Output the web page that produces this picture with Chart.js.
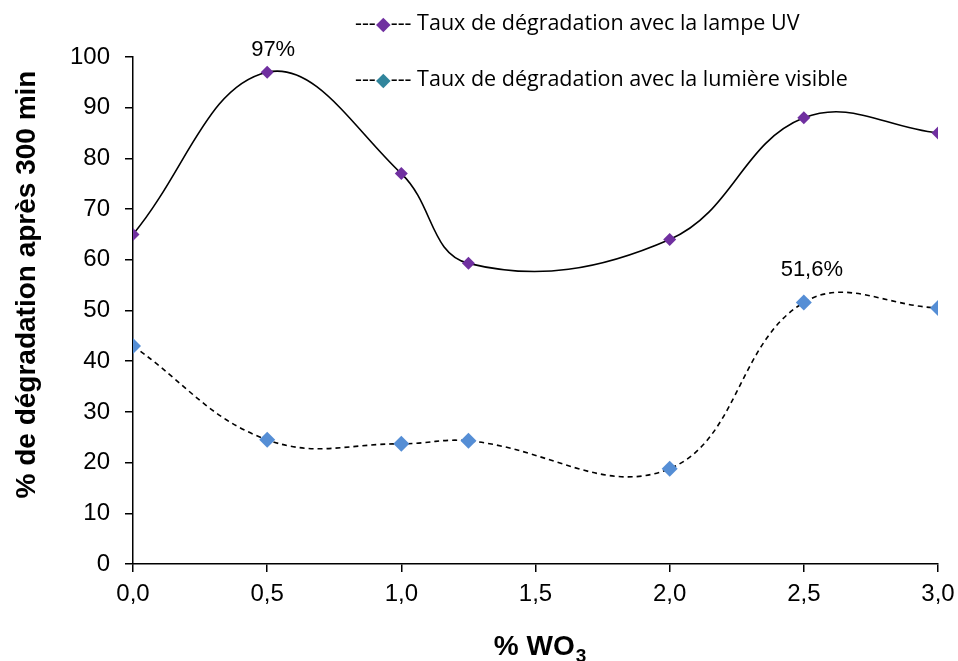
<!DOCTYPE html>
<html>
<head>
<meta charset="utf-8">
<script src="https://cdn.jsdelivr.net/npm/chart.js@4"></script>
<style>
  html, body { margin: 0; padding: 0; background: #fff; }
  #wrap { position: relative; width: 958px; height: 661px; }
  .legend { position: absolute; left: 355px; font-family: "Open Sans", "Noto Sans", sans-serif; font-size: 21.5px; color: #000; white-space: nowrap; line-height: 26px; }
  .legend .mark { font-size: 19px; }
</style>
</head>
<body>
<div id="wrap">
  <canvas id="chart" width="958" height="661"></canvas>
  <div class="legend" style="top:9px">---<span class="mark" style="color:#7030A0">◆</span>--- Taux de dégradation avec la lampe UV</div>
  <div class="legend" style="top:65px">---<span class="mark" style="color:#31859C">◆</span>--- Taux de dégradation avec la lumière visible</div>
</div>
<script>
// % WO3 values
const wo3 = [0, 0.5, 1.0, 1.25, 2.0, 2.5, 3.0];
// degradation after 300 min (%)
const uvRate = [65, 97, 77, 59.3, 64, 88, 85];
const visibleRate = [43, 24.5, 23.7, 24.3, 18.8, 51.6, 50.5];
const uvLabel = 'Taux de dégradation avec la lampe UV';
const visibleLabel = 'Taux de dégradation avec la lumière visible';
const yTitle = '% de dégradation après 300 min';
// which points get a value label, with a small nudge (dx, dy) from the point
const annotated = [
    { ds: 0, idx: 1, dx: 6, dy: -22 },
    { ds: 1, idx: 5, dx: 8, dy: -32 }
];

const toPoints = (xs, ys) => xs.map((x, i) => ({ x: x, y: ys[i] }));
const frNum = (v, d) => v.toFixed(d).replace('.', ',');
const FONT = '"Liberation Sans", Arial, sans-serif';

// value labels + axis titles (the x title needs a real subscript)
const extras = {
    id: 'extras',
    afterDatasetsDraw(chart) {
        const ctx = chart.ctx;
        ctx.save();
        ctx.font = '22px ' + FONT;
        ctx.fillStyle = '#000';
        ctx.textAlign = 'center';
        ctx.textBaseline = 'middle';
        annotated.forEach(a => {
            const pt = chart.getDatasetMeta(a.ds).data[a.idx];
            const v = chart.data.datasets[a.ds].data[a.idx].y;
            const txt = (Number.isInteger(v) ? String(v) : frNum(v, 1)) + '%';
            ctx.fillText(txt, pt.x + a.dx, pt.y + a.dy);
        });
        ctx.restore();
    },
    afterDraw(chart) {
        const ctx = chart.ctx;
        const area = chart.chartArea;
        ctx.save();
        ctx.fillStyle = '#000';

        // y title, sits a bit above the plot centre like the original
        ctx.font = 'bold 28px ' + FONT;
        ctx.textAlign = 'center';
        ctx.textBaseline = 'middle';
        ctx.translate(27, (area.top + area.bottom) / 2 - 26);
        ctx.rotate(-Math.PI / 2);
        ctx.fillText(yTitle, 0, 0);
        ctx.setTransform(1, 0, 0, 1, 0, 0);

        // x title: "% WO" + subscript 3
        ctx.textAlign = 'left';
        ctx.textBaseline = 'alphabetic';
        ctx.font = 'bold 28px ' + FONT;
        const main = '% WO';
        const wMain = ctx.measureText(main).width;
        ctx.font = 'bold 19px ' + FONT;
        const wSub = ctx.measureText('3').width;
        const x0 = (area.left + area.right) / 2 - (wMain + wSub) / 2 + 4;
        ctx.font = 'bold 28px ' + FONT;
        ctx.fillText(main, x0, 655);
        ctx.font = 'bold 19px ' + FONT;
        ctx.fillText('3', x0 + wMain + 1, 662);
        ctx.restore();
    }
};

const tickFont = { family: FONT, size: 24 };

new Chart(document.getElementById('chart'), {
    type: 'scatter',
    data: {
        datasets: [
            {
                label: uvLabel,
                data: toPoints(wo3, uvRate),
                showLine: true,
                borderColor: '#000',
                borderWidth: 1.6,
                tension: 0.4,
                pointStyle: 'rectRot',
                pointRadius: 6.5,
                pointBackgroundColor: '#7030A0',
                pointBorderColor: '#7030A0',
                pointBorderWidth: 0
            },
            {
                label: visibleLabel,
                data: toPoints(wo3, visibleRate),
                showLine: true,
                borderColor: '#000',
                borderWidth: 1.6,
                borderDash: [5, 4],
                tension: 0.4,
                pointStyle: 'rectRot',
                pointRadius: 8,
                pointBackgroundColor: '#558ED5',
                pointBorderColor: '#558ED5',
                pointBorderWidth: 0
            }
        ]
    },
    options: {
        responsive: false,
        animation: false,
        layout: { padding: { left: 0, top: 57, right: 20, bottom: 0 } },
        plugins: {
            legend: { display: false },
            tooltip: { enabled: false }
        },
        scales: {
            x: {
                type: 'linear',
                min: 0,
                max: 3,
                border: { color: '#000', width: 1.5 },
                grid: { drawOnChartArea: false, drawTicks: true, tickLength: 8, color: '#000', lineWidth: 1.5 },
                ticks: {
                    stepSize: 0.5,
                    color: '#000',
                    font: tickFont,
                    padding: 8,
                    callback: v => frNum(v, 1)
                },
                afterFit(scale) {
                    scale.height = 97;
                    scale.paddingLeft = 0;
                    scale.paddingRight = 0;
                }
            },
            y: {
                min: 0,
                max: 100,
                border: { color: '#000', width: 1.5 },
                grid: { drawOnChartArea: false, drawTicks: true, tickLength: 8, color: '#000', lineWidth: 1.5 },
                ticks: {
                    stepSize: 10,
                    color: '#000',
                    font: tickFont,
                    padding: 15
                },
                afterFit(scale) { scale.width = 133; }
            }
        }
    },
    plugins: [extras]
});
</script>
</body>
</html>
